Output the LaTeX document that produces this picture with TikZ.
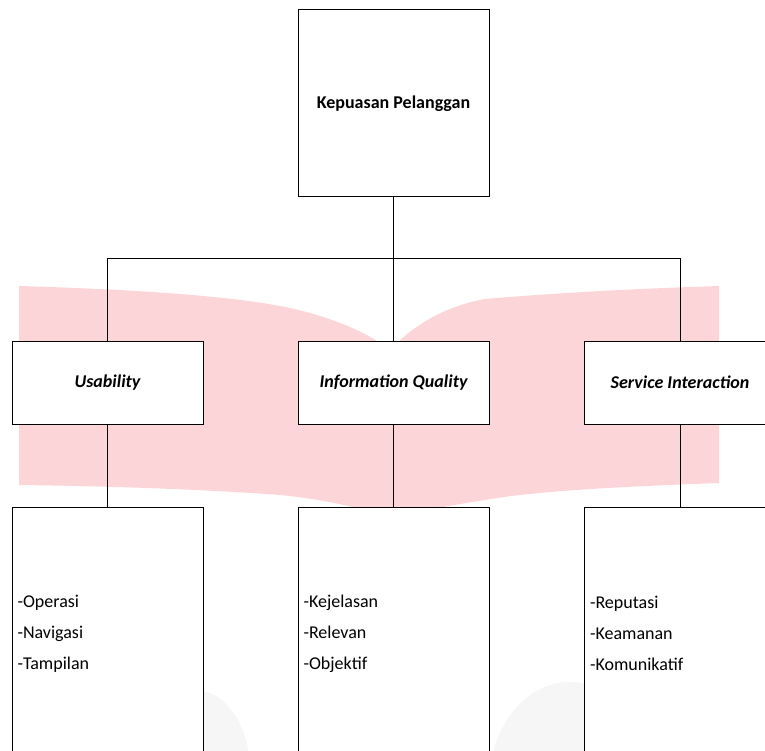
\documentclass[tikz,border=0pt]{standalone}
\usepackage{fontspec}
\setmainfont{Carlito}
\usetikzlibrary{calc}
\definecolor{wmpink}{RGB}{252,213,216}
\definecolor{wmgray}{RGB}{246,246,246}
\tikzset{
  kotak/.style={draw=black, line width=1pt, fill=white, inner sep=0pt, minimum width=191},
  garis/.style={black, line width=0.8pt}
}

\begin{document}
\begin{tikzpicture}[x=1pt,y=-1pt]
\useasboundingbox (0,0) rectangle (765,751);
\clip (0,0) rectangle (765,751);
% watermark
\fill[wmgray] (195,770) ellipse [x radius=55, y radius=80];
\fill[wmgray] (570,780) ellipse [x radius=80, y radius=98];
\fill[wmpink] (19,286) .. controls (120,289) and (230,295) .. (290,308)
  .. controls (335,318) and (370,334) .. (390,350)
  .. controls (405,334) and (435,308) .. (485,299)
  .. controls (580,291) and (660,288) .. (719,286) -- (719,483)
  .. controls (640,486) and (540,490) .. (485,500)
  .. controls (440,507) and (410,513) .. (390,519)
  .. controls (370,510) and (330,500) .. (280,495)
  .. controls (200,489) and (100,486) .. (19,485) -- cycle;

% kotak utama
\node[kotak, minimum height=187, font=\fontsize{18}{22}\selectfont\bfseries] (puas) at (393.5,103.5) {Kepuasan Pelanggan};

\foreach \nm/\cx/\lbl/\isi in {
  usab/107.5/Usability/{-Operasi\\-Navigasi\\-Tampilan},
  info/393.5/Information Quality/{-Kejelasan\\-Relevan\\-Objektif},
  serv/680/Service Interaction/{-Reputasi\\-Keamanan\\-Komunikatif}} {
  \node[kotak, minimum height=83, font=\fontsize{18}{22}\selectfont\bfseries\itshape] (\nm) at (\cx,382.5) {\lbl};
  \node[kotak, minimum height=253, text width=180, inner xsep=5.5, align=left,
    font=\fontsize{18}{31}\selectfont] (\nm-isi) at (\cx,633.5) {\isi};
}

% garis penghubung
\coordinate (cabang) at (393.5,258);
\draw[garis] (puas.south) -- (cabang);
\draw[garis] (usab.north) -- (usab.north |- cabang) -- (serv.north |- cabang) -- (serv.north);
\draw[garis] (cabang) -- (info.north);
\foreach \nm in {usab,info,serv} {
  \draw[garis] (\nm.south) -- (\nm-isi.north);
}
\end{tikzpicture}
\end{document}
